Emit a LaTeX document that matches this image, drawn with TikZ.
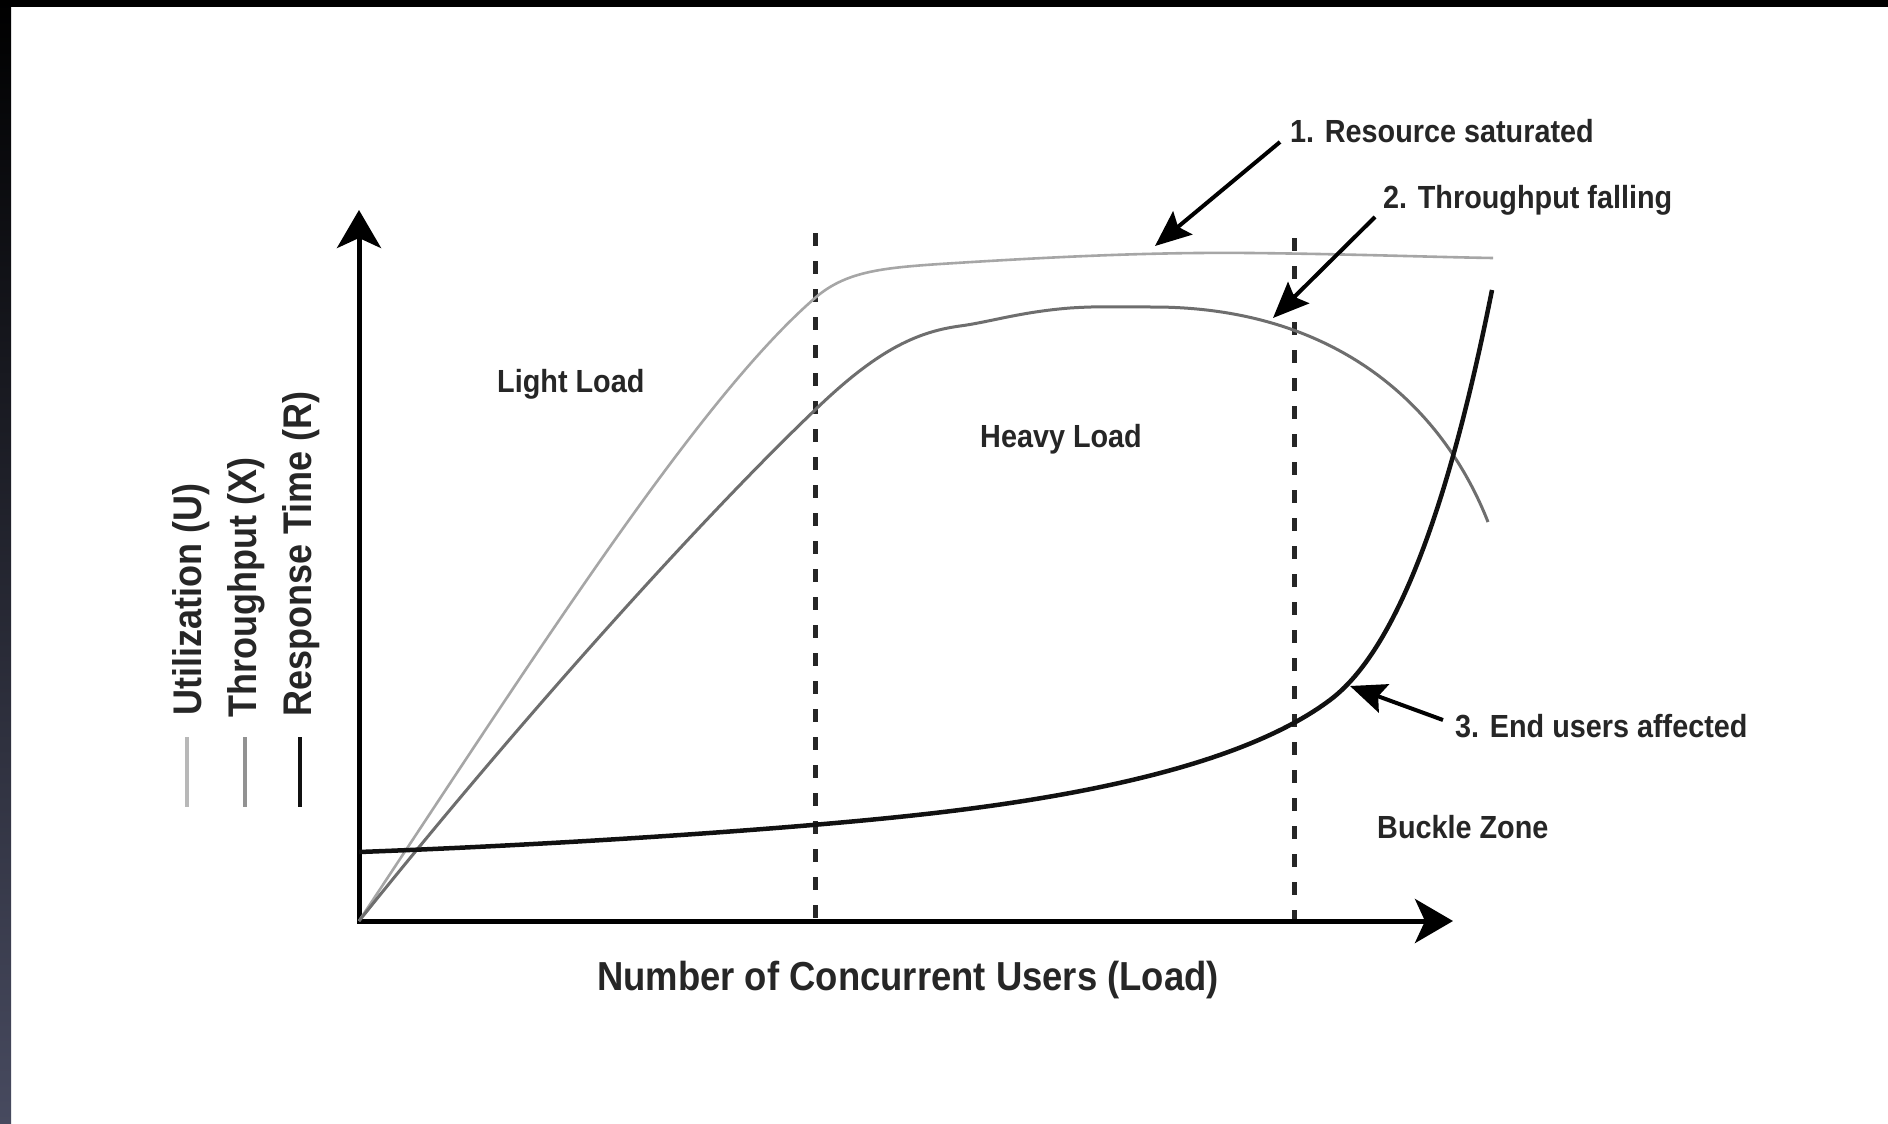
\documentclass[tikz,border=0pt]{standalone}
\usepackage{fontspec}
\setmainfont{Liberation Sans}[FakeStretch=0.9]
\usetikzlibrary{arrows.meta}
\definecolor{txt}{HTML}{262626}
\definecolor{ucol}{HTML}{A6A6A6}
\definecolor{tcol}{HTML}{6E6E6E}
\definecolor{rcol}{HTML}{111111}
\definecolor{bandbot}{HTML}{474A5F}
\begin{document}
\begin{tikzpicture}[x=1pt,y=-1pt,
  lbl/.style={font=\fontsize{32}{38}\selectfont\bfseries, text=txt, inner sep=0pt, anchor=base west},
  leg/.style={font=\fontsize{40}{48}\selectfont\bfseries, text=txt, inner sep=0pt, anchor=base west, rotate=90},
  axisline/.style={line width=5pt, draw=black, line join=miter,
     {Stealth[length=38pt,width=44pt,inset=10pt]}-{Stealth[length=38pt,width=44pt,inset=10pt]}},
  guide/.style={line width=5pt, dash pattern=on 13pt off 15pt, draw=black!85},
  util/.style={line width=2.6pt, draw=ucol},
  thru/.style={line width=3pt, draw=tcol},
  resp/.style={line width=4.5pt, draw=rcol},
  callout/.style={line width=4pt, draw=black, -{Stealth[length=36pt,width=30pt,inset=6pt]}},
  legline/.style={line width=4pt}
]
\useasboundingbox (0,0) rectangle (1888,1124);
\fill[white] (0,0) rectangle (1888,1124);
\fill[black] (0,0) rectangle (1888,7);
\shade[top color=black, bottom color=bandbot] (0,0) rectangle (11,1124);

% axes
\coordinate (O) at (359,921);
\coordinate (ytip) at (359,210);
\coordinate (xtip) at (1453,921);
\draw[axisline] (ytip) -- (O) -- (xtip);

% zone boundaries
\coordinate (d1top) at (815,233);
\coordinate (d1bot) at (815,919);
\coordinate (d2top) at (1294,238);
\coordinate (d2bot) at (1294,919);
\draw[guide] (d1top) -- (d1bot);
\draw[guide] (d2top) -- (d2bot);

% curves
\draw[util] (O) .. controls (545,640) and (700,398) .. (815,298)
   .. controls (845,272) and (880,268) .. (940,264)
   .. controls (1050,257) and (1150,252) .. (1250,253)
   .. controls (1350,254) and (1430,257) .. (1493,258);
\draw[thru] (O) .. controls (520,720) and (700,520) .. (815,410)
   .. controls (875,352) and (915,332) .. (960,326)
   .. controls (990,322) and (1020,312) .. (1070,308)
   .. controls (1100,306) and (1120,307) .. (1153,307)
   .. controls (1330,307) and (1440,400) .. (1488,522);
\draw[resp] (359,852) .. controls (550,845) and (780,830) .. (917,815)
   .. controls (1100,795) and (1250,760) .. (1330,700)
   .. controls (1410,640) and (1460,450) .. (1492,290);

% labels
\node[lbl] (l1) at (1290,142) {1. Resource saturated};
\node[lbl] (l2) at (1383,208) {2. Throughput falling};
\node[lbl] (l3) at (1455,737) {3. End users affected};
\node[lbl] (buckle) at (1377,838) {Buckle Zone};
\node[lbl] (light) at (497,392) {Light Load};
\node[lbl] (heavy) at (980,447) {Heavy Load};
\node[font=\fontsize{40.5}{48}\selectfont\bfseries, text=txt, inner sep=0pt, anchor=base] (xlab) at (908,990) {Number of Concurrent Users (Load)};

% callouts
\coordinate (t1) at (1155,246);
\coordinate (t2) at (1273,318);
\coordinate (t3) at (1350,686);
\draw[callout] ([shift={(-10,0)}]l1.base west) -- (t1);
\draw[callout] ([shift={(-8,9)}]l2.base west) -- (t2);
\draw[callout] ([shift={(-12,-17)}]l3.base west) -- (t3);

% legend
\node[leg] (legU) at (201,716) {Utilization (U)};
\node[leg] (legX) at (256,718) {Throughput (X)};
\node[leg] (legR) at (311,717) {Response Time (R)};
\draw[legline, draw=ucol!80] (187,737) -- (187,807);
\draw[legline, draw=tcol!75] (245,737) -- (245,807);
\draw[legline, draw=rcol] (300,737) -- (300,807);
\end{tikzpicture}
\end{document}
